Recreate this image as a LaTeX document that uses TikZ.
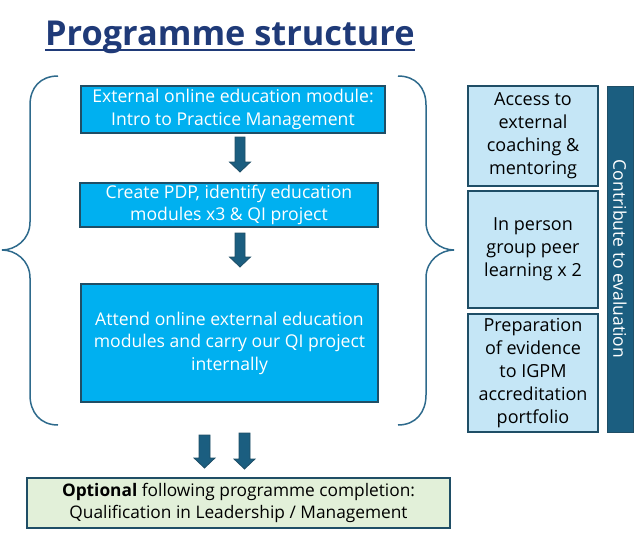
\documentclass[tikz,border=0pt]{standalone}
\usepackage{fontspec}
\setmainfont{Open Sans}
\usetikzlibrary{calc}
\definecolor{titleblue}{HTML}{1F3A78}
\definecolor{brightblue}{HTML}{00B0F0}
\definecolor{darkteal}{HTML}{1B5E80}
\definecolor{edgeteal}{HTML}{1F4E66}
\definecolor{lightblue}{HTML}{C5E6F6}
\definecolor{lightgreen}{HTML}{E2F0D9}
\definecolor{bracecol}{HTML}{2E6A8C}
\tikzset{
  mainbox/.style={draw=edgeteal, line width=1.2pt, fill=brightblue, text=white, align=center, inner sep=0pt, font=\fontsize{17.6}{22.5}\selectfont},
  sidebox/.style={draw=edgeteal, line width=1.2pt, fill=lightblue, text=black, align=center, inner sep=0pt, minimum width=130pt, font=\fontsize{18}{23}\selectfont},
  blockarrow/.style={fill=darkteal, draw=edgeteal, line width=0.8pt},
  bracestyle/.style={draw=bracecol, line width=1.5pt}
}
\begin{document}
\begin{tikzpicture}[x=1pt,y=-1pt]
\useasboundingbox (0,0) rectangle (637,538);
% title
\node[anchor=base west, text=titleblue, font=\fontsize{34.3}{40}\selectfont\bfseries, inner sep=0pt] (title) at (45,45) {Programme structure};
\draw[titleblue, line width=1.3pt] (45,50) -- (415,50);
% braces
\draw[bracestyle] (58,76) .. controls (40,76) and (30,88) .. (30,105) -- (30,222) .. controls (30,240) and (15,250) .. (2,250) .. controls (15,250) and (30,260) .. (30,278) -- (30,395) .. controls (30,412) and (40,425) .. (58,425);
\draw[bracestyle] (398,76) .. controls (416,76) and (426,88) .. (426,105) -- (426,222) .. controls (426,240) and (441,250) .. (454,250) .. controls (441,250) and (426,260) .. (426,278) -- (426,395) .. controls (426,412) and (416,425) .. (398,425);
% main boxes
\node[mainbox, minimum width=304pt, minimum height=47pt] (b1) at (233,109.5) {External online education module:\\Intro to Practice Management};
\node[mainbox, minimum width=298pt, minimum height=44pt] (b2) at (229,205) {Create PDP, identify education\\modules x3 \& QI project};
\node[mainbox, minimum width=297pt, minimum height=118pt] (b3) at (229.5,343) {Attend online external education\\modules and carry our QI project\\internally};
% arrows
\draw[blockarrow] (235,137) -- (245,137) -- (245,162) -- (250.5,162) -- (240,172) -- (229.5,162) -- (235,162) -- cycle;
\draw[blockarrow] (235,233) -- (245,233) -- (245,257) -- (250.5,257) -- (240,267) -- (229.5,257) -- (235,257) -- cycle;
\draw[blockarrow] (199,435) -- (210,435) -- (210,458) -- (215,458) -- (204.5,468) -- (194,458) -- (199,458) -- cycle;
\draw[blockarrow] (239,433) -- (250,433) -- (250,459) -- (255,459) -- (244.5,469) -- (234,459) -- (239,459) -- cycle;
% bottom box
\node[draw=edgeteal, line width=1.2pt, fill=lightgreen, align=center, inner sep=0pt, minimum width=423pt, minimum height=50pt, font=\fontsize{17.3}{22}\selectfont] (opt) at (238.5,503) {\textbf{Optional} following programme completion:\\Qualification in Leadership / Management};
% side boxes
\node[sidebox, minimum height=100pt] (s1) at (533,136) {Access to\\external\\coaching \&\\mentoring};
\node[sidebox, minimum height=117pt] (s2) at (533,249.5) {In person\\group peer\\learning x 2};
\node[sidebox, minimum height=118pt] (s3) at (533,373) {Preparation\\of evidence\\to IGPM\\accreditation\\portfolio};
% bar
\node[fill=darkteal, draw=edgeteal, line width=0.8pt, minimum width=26pt, minimum height=346pt, inner sep=0pt] (bar) at (620,259) {};
\node[rotate=-90, text=white, font=\fontsize{17.5}{20}\selectfont, inner sep=0pt] (barlabel) at (bar.center) {Contribute to evaluation};
\end{tikzpicture}
\end{document}
